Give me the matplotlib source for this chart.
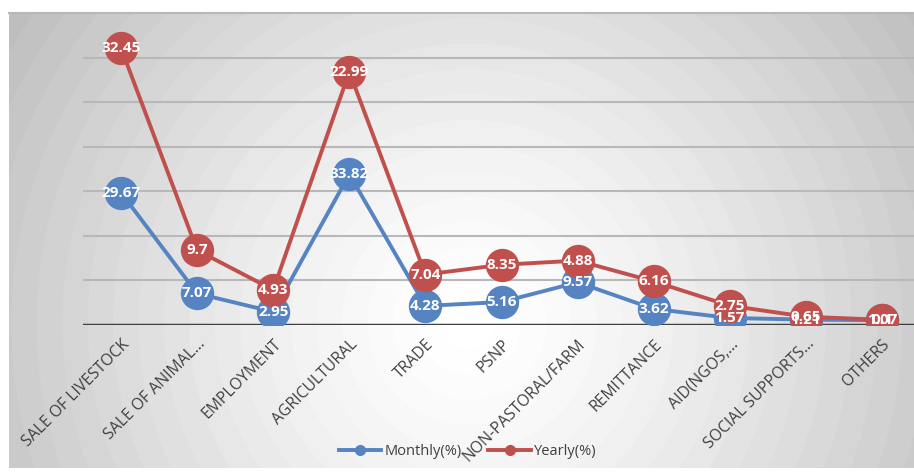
import numpy as np
import matplotlib.pyplot as plt

plt.rcParams['font.family'] = ['Open Sans', 'DejaVu Sans']

# data
categories = ['SALE OF LIVESTOCK', 'SALE OF ANIMAL...', 'EMPLOYMENT', 'AGRICULTURAL',
              'TRADE', 'PSNP', 'NON-PASTORAL/FARM', 'REMITTANCE', 'AID(NGOS,...',
              'SOCIAL SUPPORTS...', 'OTHERS']
monthly = [29.67, 7.07, 2.95, 33.82, 4.28, 5.16, 9.57, 3.62, 1.57, 1.21, 1.07]
yearly = [32.45, 9.7, 4.93, 22.99, 7.04, 8.35, 4.88, 6.16, 2.75, 0.65, 0.1]

# stacked line chart
x = np.arange(len(categories))
m = np.array(monthly)
y_stack = m + np.array(yearly)

blue = '#5683C2'
red = '#C0504D'

fig = plt.figure(figsize=(9.14, 4.72), dpi=100)

# radial gradient background of the chart area
bg = fig.add_axes([9 / 914, 4 / 472, 1 - 9 / 914, (468 - 13) / 472], zorder=0)
W, H = 905, 455
gx, gy = np.meshgrid(np.arange(W), np.arange(H))
r = np.hypot(gx - 460, gy - 310) / 560
r = np.clip(r, 0, 1)
r = np.floor(r * 22) / 22  # banded look
shade = 1.0 - 0.27 * r ** 1.3
bg.imshow(shade, cmap='gray', vmin=0, vmax=1, aspect='auto', interpolation='nearest')
bg.set_xticks([])
bg.set_yticks([])
for s in ['left', 'right', 'bottom']:
    bg.spines[s].set_visible(False)
bg.spines['top'].set_color('#b8b8b8')
bg.spines['top'].set_linewidth(1.5)

ax = fig.add_axes([83 / 914, (472 - 325) / 472, (920 - 83) / 914, (325 - 13) / 472], zorder=1)
ax.patch.set_alpha(0)

ax.plot(x, m, color=blue, lw=2.8, marker='o', ms=23, label='Monthly(%)', zorder=3)
ax.plot(x, y_stack, color=red, lw=2.8, marker='o', ms=23, label='Yearly(%)', zorder=4)

for i in range(len(x)):
    ax.text(x[i], m[i], f'{monthly[i]:g}', color='white', fontsize=11, fontweight='bold',
            ha='center', va='center', zorder=5)
    ax.text(x[i], y_stack[i], f'{yearly[i]:g}', color='white', fontsize=11, fontweight='bold',
            ha='center', va='center', zorder=6)

ax.set_xlim(-0.5, len(x) - 0.5)
ax.set_ylim(0, 70)
ax.set_yticks(np.arange(10, 70, 10))
ax.yaxis.grid(True, color='#b8b8b8', lw=1.5)
ax.tick_params(axis='y', left=False, labelleft=False)
ax.set_axisbelow(True)
for s in ['left', 'right', 'bottom', 'top']:
    ax.spines[s].set_visible(False)
ax.axhline(0, color='#404040', lw=2.5, zorder=2)

ax.set_xticks(x)
ax.set_xticklabels(categories, rotation=45, ha='right', va='top', rotation_mode='anchor',
                   fontsize=11.3, color='#404040')
ax.tick_params(axis='x', length=0, pad=8)

leg_handles = [plt.Line2D([], [], color=blue, lw=2.8, marker='o', ms=7),
               plt.Line2D([], [], color=red, lw=2.8, marker='o', ms=7)]
fig.legend(leg_handles, ['Monthly(%)', 'Yearly(%)'], loc='center', bbox_to_anchor=(0.512, 0.043),
           ncol=2, frameon=False, fontsize=10.5, handlelength=2.9, handletextpad=0.25,
           columnspacing=1.8, labelcolor='#404040')

fig.savefig('out.png', dpi=100)
